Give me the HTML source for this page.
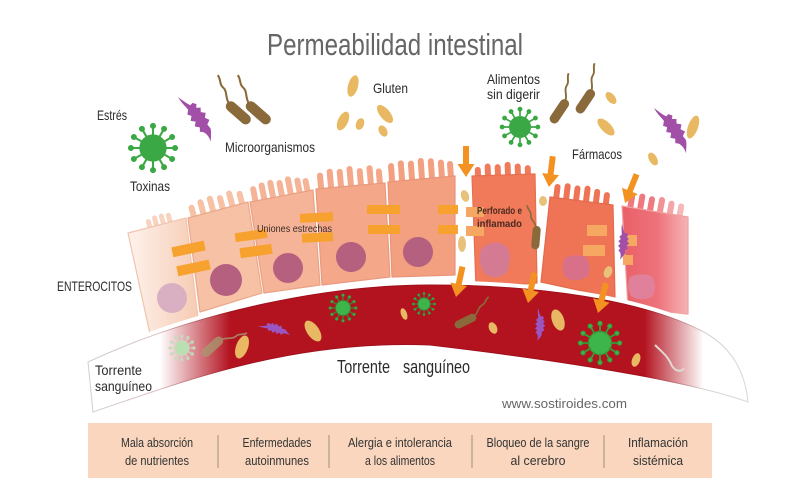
<!DOCTYPE html>
<html><head><meta charset="utf-8"><style>
html,body{margin:0;padding:0;background:#fff;}
svg{display:block;}
text{font-family:"Liberation Sans Narrow","Liberation Sans",sans-serif;}
</style></head><body>
<svg width="800" height="500" viewBox="0 0 800 500" xmlns="http://www.w3.org/2000/svg">
<defs>
<linearGradient id="gb" gradientUnits="userSpaceOnUse" x1="88" y1="0" x2="750" y2="0">
<stop offset="0" stop-color="#fff"/><stop offset="0.109" stop-color="#fff"/><stop offset="0.215" stop-color="#b3121f"/><stop offset="0.84" stop-color="#b3121f"/><stop offset="0.93" stop-color="#fff"/><stop offset="1" stop-color="#fff"/>
</linearGradient>
<linearGradient id="gs" gradientUnits="userSpaceOnUse" x1="88" y1="0" x2="750" y2="0">
<stop offset="0" stop-color="#cfcfcf"/><stop offset="0.109" stop-color="#d8c0c0"/><stop offset="0.215" stop-color="#a0101c"/><stop offset="0.84" stop-color="#a0101c"/><stop offset="0.93" stop-color="#d8d0d0"/><stop offset="1" stop-color="#d8d8d8"/>
</linearGradient>
<linearGradient id="g1" gradientUnits="userSpaceOnUse" x1="125" y1="0" x2="195" y2="0">
<stop offset="0" stop-color="#fdf4ef"/><stop offset="1" stop-color="#f7cdb6"/>
</linearGradient>
<linearGradient id="g8" gradientUnits="userSpaceOnUse" x1="622" y1="0" x2="692" y2="0">
<stop offset="0" stop-color="#ea6068"/><stop offset="0.5" stop-color="#ed727a"/><stop offset="1" stop-color="#f7bcbc"/>
</linearGradient>
<g id="vir">
<circle r="10"/>
<path d="M9 0L16 0M7.8 4.5L13.9 8M4.5 7.8L8 13.9M0 9L0 16M-4.5 7.8L-8 13.9M-7.8 4.5L-13.9 8M-9 0L-16 0M-7.8 -4.5L-13.9 -8M-4.5 -7.8L-8 -13.9M0 -9L0 -16M4.5 -7.8L8 -13.9M7.8 -4.5L13.9 -8" fill="none" stroke-width="1.6"/>
<circle cx="17" cy="0" r="1.8"/><circle cx="14.7" cy="8.5" r="1.8"/><circle cx="8.5" cy="14.7" r="1.8"/><circle cx="0" cy="17" r="1.8"/><circle cx="-8.5" cy="14.7" r="1.8"/><circle cx="-14.7" cy="8.5" r="1.8"/><circle cx="-17" cy="0" r="1.8"/><circle cx="-14.7" cy="-8.5" r="1.8"/><circle cx="-8.5" cy="-14.7" r="1.8"/><circle cx="0" cy="-17" r="1.8"/><circle cx="8.5" cy="-14.7" r="1.8"/><circle cx="14.7" cy="-8.5" r="1.8"/>
</g>
<g id="bac">
<rect x="0" y="-4.5" width="26" height="9" rx="4.5" stroke="none"/>
<path d="M1 -1C-5 -3 -6 -8 -12 -8C-16 -8 -17 -12 -22 -13" fill="none" stroke-width="1.8"/>
</g>
<path id="sq" d="M0 0C2 4 4 9 7 13L10 12L13 15L11 18L15 20L13 24L17 27L14 31L17 35L13 38L14 43C13 47 10 51 8 55C9 50 8 46 6 43L3 41L5 37L1 34L4 30L0 27L3 23L0 20L3 16C2 11 0 6 0 0Z"/>
<path id="arr" d="M-3 -31L3 -31L3 -13L8.5 -13L0 0L-8.5 -13L-3 -13Z"/>
</defs>

<!-- Title -->
<text x="267" y="55" font-size="31" fill="#666" textLength="256" lengthAdjust="spacingAndGlyphs">Permeabilidad intestinal</text>

<!-- Top labels -->
<g fill="#2b2b2b" font-size="14">
<text x="97" y="120" textLength="30" lengthAdjust="spacingAndGlyphs">Estrés</text>
<text x="130" y="191" textLength="40" lengthAdjust="spacingAndGlyphs">Toxinas</text>
<text x="225" y="152" textLength="90" lengthAdjust="spacingAndGlyphs">Microorganismos</text>
<text x="373" y="93" textLength="35" lengthAdjust="spacingAndGlyphs">Gluten</text>
<text x="487" y="84" textLength="53" lengthAdjust="spacingAndGlyphs">Alimentos</text>
<text x="487" y="99" textLength="53" lengthAdjust="spacingAndGlyphs">sin digerir</text>
<text x="572" y="159" textLength="50" lengthAdjust="spacingAndGlyphs">Fármacos</text>
<text x="57" y="291" textLength="75" lengthAdjust="spacingAndGlyphs">ENTEROCITOS</text>
</g>

<!-- Top microbes -->
<use href="#vir" transform="translate(153,148) scale(1.3)" fill="#3aa845" stroke="#3aa845"/>
<use href="#vir" transform="translate(520,127) scale(1.05)" fill="#3aa845" stroke="#3aa845"/>
<use href="#sq" transform="translate(178,97) rotate(-28)" fill="#a24fa8"/>
<use href="#sq" transform="translate(654,108) rotate(-27)" fill="#a24fa8"/>
<use href="#bac" transform="translate(227,103) rotate(41) scale(1.15)" fill="#8a6a3a" stroke="#8a6a3a"/>
<use href="#bac" transform="translate(247,103) rotate(41) scale(1.15)" fill="#8a6a3a" stroke="#8a6a3a"/>
<use href="#bac" transform="translate(567,100) rotate(124) scale(1.05,-1.05)" fill="#8a6a3a" stroke="#8a6a3a"/>
<use href="#bac" transform="translate(593,90) rotate(124) scale(1.05,-1.05)" fill="#8a6a3a" stroke="#8a6a3a"/>
<g fill="#e8b862">
<ellipse cx="353" cy="86" rx="5" ry="11" transform="rotate(15 353 86)"/>
<ellipse cx="343" cy="121" rx="5" ry="10" transform="rotate(25 343 121)"/>
<ellipse cx="360" cy="124" rx="4" ry="6" transform="rotate(20 360 124)"/>
<ellipse cx="385" cy="114" rx="5" ry="11" transform="rotate(-40 385 114)"/>
<ellipse cx="383" cy="131" rx="4" ry="6" transform="rotate(-30 383 131)"/>
<ellipse cx="611" cy="98" rx="4" ry="7" transform="rotate(-40 611 98)"/>
<ellipse cx="606" cy="127" rx="5" ry="11" transform="rotate(-45 606 127)"/>
<ellipse cx="693" cy="127" rx="5" ry="12" transform="rotate(20 693 127)"/>
<ellipse cx="653" cy="159" rx="4" ry="7" transform="rotate(-30 653 159)"/>
</g>

<!-- Villi -->
<g transform="translate(157,225) rotate(-15)" fill="#f8d3bf">
<rect x="-10" y="-8" width="5" height="12" rx="2.5"/><rect x="-3" y="-10" width="5" height="14" rx="2.5"/><rect x="4" y="-10" width="5" height="14" rx="2.5"/><rect x="11" y="-9" width="5" height="13" rx="2.5"/>
</g>
<g transform="translate(218,210) rotate(-15)" fill="#f6c1a5">
<rect x="-28" y="-12" width="6" height="18" rx="3"/><rect x="-18" y="-15" width="6" height="21" rx="3"/><rect x="-8" y="-16" width="6" height="22" rx="3"/><rect x="2" y="-14" width="6" height="20" rx="3"/><rect x="12" y="-16" width="6" height="22" rx="3"/><rect x="22" y="-13" width="6" height="19" rx="3"/>
</g>
<g transform="translate(281,196) rotate(-11)" fill="#f5b497">
<rect x="-29" y="-15" width="6" height="21" rx="3"/><rect x="-20" y="-17" width="6" height="23" rx="3"/><rect x="-11" y="-18" width="6" height="24" rx="3"/><rect x="-2" y="-16" width="6" height="22" rx="3"/><rect x="7" y="-18" width="6" height="24" rx="3"/><rect x="16" y="-15" width="6" height="21" rx="3"/><rect x="24" y="-13" width="6" height="19" rx="3"/>
</g>
<g transform="translate(350,186) rotate(-5)" fill="#f4a789">
<rect x="-32" y="-16" width="6" height="22" rx="3"/><rect x="-22" y="-19" width="6" height="25" rx="3"/><rect x="-12" y="-18" width="6" height="24" rx="3"/><rect x="-2" y="-20" width="6" height="26" rx="3"/><rect x="8" y="-17" width="6" height="23" rx="3"/><rect x="18" y="-19" width="6" height="25" rx="3"/><rect x="27" y="-15" width="6" height="21" rx="3"/>
</g>
<g transform="translate(421,179) rotate(-4)" fill="#f3a080">
<rect x="-32" y="-18" width="6" height="24" rx="3"/><rect x="-22" y="-20" width="6" height="26" rx="3"/><rect x="-12" y="-19" width="6" height="25" rx="3"/><rect x="-2" y="-21" width="6" height="27" rx="3"/><rect x="8" y="-20" width="6" height="26" rx="3"/><rect x="18" y="-18" width="6" height="24" rx="3"/><rect x="27" y="-16" width="6" height="22" rx="3"/>
</g>
<g transform="translate(503,176) rotate(-2)" fill="#f07a5a">
<rect x="-28" y="-10" width="6" height="16" rx="3"/><rect x="-18" y="-13" width="6" height="19" rx="3"/><rect x="-8" y="-12" width="6" height="18" rx="3"/><rect x="2" y="-14" width="6" height="20" rx="3"/><rect x="12" y="-12" width="6" height="18" rx="3"/><rect x="22" y="-10" width="6" height="16" rx="3"/>
</g>
<g transform="translate(581,201) rotate(7)" fill="#ef7455">
<rect x="-28" y="-14" width="6" height="20" rx="3"/><rect x="-18" y="-16" width="6" height="22" rx="3"/><rect x="-8" y="-15" width="6" height="21" rx="3"/><rect x="2" y="-16" width="6" height="22" rx="3"/><rect x="12" y="-14" width="6" height="20" rx="3"/><rect x="22" y="-12" width="6" height="18" rx="3"/>
</g>
<g transform="translate(655,211) rotate(10)" fill="#ee7a80">
<rect x="-28" y="-13" width="6" height="19" rx="3"/><rect x="-18" y="-15" width="6" height="21" rx="3"/><rect x="-8" y="-14" width="6" height="20" rx="3"/><rect x="2" y="-15" width="6" height="21" rx="3" fill="#f29196"/><rect x="12" y="-13" width="6" height="19" rx="3" fill="#f4a5a8"/><rect x="22" y="-12" width="6" height="18" rx="3" fill="#f7b8b8"/>
</g>

<!-- Cells -->
<g stroke-linejoin="round" stroke-width="1.2">
<polygon points="128,233 186,218 198,318 150,334" fill="url(#g1)" stroke="#f1c4ad"/>
<polygon points="188,218 248,202 262,293 200,312" fill="#f6c1a5" stroke="#eba88a"/>
<polygon points="250,202 313,190 320,285 264,293" fill="#f5b497" stroke="#eba084"/>
<polygon points="316,189 385,183 390,277 322,285" fill="#f4a789" stroke="#e99a7e"/>
<polygon points="388,182 455,176 455,275 392,277" fill="#f3a080" stroke="#e99478"/>
<polygon points="472,176 535,174 537,283 476,288" fill="#f07a5a" stroke="#e66f50"/>
<polygon points="550,197 613,205 615,298 541,282" fill="#ef7455" stroke="#e56a4c"/>
<polygon points="622,206 688,217 688,314 628,308" fill="url(#g8)" stroke="#f0a0a0"/>
</g>

<!-- Nuclei -->
<circle cx="172" cy="298" r="15" fill="#d9b0c2"/>
<g fill="#b4607e">
<circle cx="226" cy="280" r="16"/>
<circle cx="288" cy="268" r="15"/>
<circle cx="351" cy="257" r="15"/>
<circle cx="418" cy="252" r="15"/>
</g>
<path d="M482 248 Q492 240 503 244 Q512 250 509 262 Q510 275 497 277 Q484 278 481 266 Q478 256 482 248Z" fill="#d57a93"/>
<path d="M565 258 Q575 253 586 257 Q592 266 588 276 Q577 283 566 278 Q560 268 565 258Z" fill="#d9708a"/>
<path d="M630 277 Q640 272 652 276 Q658 287 652 297 Q640 302 631 296 Q626 286 630 277Z" fill="#e0809a"/>

<!-- Tight junctions -->
<g fill="#f7a12e">
<rect x="172" y="244" width="33" height="10" transform="rotate(-12 188 249)"/>
<rect x="177" y="263" width="33" height="10" transform="rotate(-12 193 268)"/>
<rect x="235" y="231" width="32" height="9" transform="rotate(-8 251 235)"/>
<rect x="240" y="246" width="32" height="10" transform="rotate(-8 256 251)"/>
<rect x="300" y="213" width="33" height="9" transform="rotate(-3 316 218)"/>
<rect x="302" y="233" width="31" height="9" transform="rotate(-3 317 238)"/>
<rect x="367" y="205" width="33" height="9"/>
<rect x="368" y="225" width="32" height="9"/>
<rect x="438" y="205" width="20" height="9"/>
<rect x="438" y="225" width="20" height="9"/>
</g>
<g fill="#f6a863">
<rect x="466" y="207" width="18" height="10"/>
<rect x="466" y="226" width="18" height="10"/>
<rect x="587" y="225" width="20" height="11"/>
<rect x="583" y="245" width="22" height="11"/>
<rect x="625" y="235" width="12" height="11"/>
<rect x="623" y="255" width="10" height="10"/>
</g>

<!-- Gap contents -->
<g fill="#e8c27a">
<ellipse cx="465" cy="196" rx="4" ry="6" transform="rotate(-20 465 196)"/>
<ellipse cx="462" cy="244" rx="4" ry="8"/>
<ellipse cx="543" cy="201" rx="4" ry="5"/>
<ellipse cx="608" cy="272" rx="4" ry="6" transform="rotate(20 608 272)"/>
</g>
<use href="#bac" transform="translate(537,226) rotate(95) scale(0.9,-0.9)" fill="#8a6a3a" stroke="#8a6a3a"/>
<use href="#sq" transform="translate(622,224) rotate(12) scale(0.65)" fill="#a24fa8"/>

<!-- Cell labels -->
<text x="257" y="232" font-size="10.5" fill="#3a2a2a" textLength="75" lengthAdjust="spacingAndGlyphs">Uniones estrechas</text>
<text x="477" y="214" font-size="10.5" font-weight="bold" fill="#4a2a20" textLength="45" lengthAdjust="spacingAndGlyphs">Perforado e</text>
<text x="477" y="227" font-size="10.5" font-weight="bold" fill="#4a2a20" textLength="45" lengthAdjust="spacingAndGlyphs">inflamado</text>

<!-- White gap above vessel -->
<path d="M88 362 C200 310 330 285 430 285 C540 285 640 300 700 330" fill="none" stroke="#fff" stroke-width="9"/>

<!-- Blood vessel -->
<path d="M88 362 C200 310 330 285 430 285 C540 285 640 300 700 330 C730 345 745 370 748 402 C700 385 600 365 430 345 C300 340 200 375 93 412 Z" fill="url(#gb)" stroke="url(#gs)" stroke-width="1"/>

<!-- Blood contents -->
<use href="#vir" transform="translate(182,348) scale(0.7)" fill="#b8e0b0" stroke="#c8dcc0"/>
<use href="#vir" transform="translate(343,308) scale(0.75)" fill="#3db54a" stroke="#3a8a38"/>
<use href="#vir" transform="translate(424,304) scale(0.62)" fill="#3db54a" stroke="#3a8a38"/>
<use href="#vir" transform="translate(600,343) scale(1.15)" fill="#3db54a" stroke="#3a9a3a"/>
<use href="#bac" transform="translate(222,338) rotate(138)" fill="#a89a70" stroke="#a89a70" opacity="0.75"/>
<use href="#bac" transform="translate(476,316) rotate(154) scale(0.9,-0.9)" fill="#8a6a3a" stroke="#8a6a3a"/>
<use href="#sq" transform="translate(258,326) rotate(-65) scale(0.6)" fill="#9a55c0"/>
<use href="#sq" transform="translate(538,308) rotate(10) scale(0.6)" fill="#9a55c0"/>
<g fill="#e8b862">
<ellipse cx="242" cy="347" rx="6" ry="12" transform="rotate(20 242 347)"/>
<ellipse cx="313" cy="331" rx="6" ry="12" transform="rotate(-35 313 331)"/>
<ellipse cx="404" cy="314" rx="3" ry="6" transform="rotate(-20 404 314)"/>
<ellipse cx="493" cy="328" rx="4" ry="6" transform="rotate(-25 493 328)"/>
<ellipse cx="558" cy="320" rx="6" ry="11" transform="rotate(-20 558 320)"/>
<ellipse cx="636" cy="360" rx="4" ry="7" transform="rotate(20 636 360)"/>
</g>
<path d="M655 345 C662 352 668 356 672 366 C676 372 682 372 684 368" fill="none" stroke="#e0d8d0" stroke-width="2"/>

<!-- Arrows -->
<g fill="#f39220">
<use href="#arr" transform="translate(466,177)"/>
<use href="#arr" transform="translate(549,187) rotate(7)"/>
<use href="#arr" transform="translate(625,203) rotate(22)"/>
<use href="#arr" transform="translate(456,297) rotate(12)"/>
<use href="#arr" transform="translate(528,303) rotate(12)"/>
<use href="#arr" transform="translate(598,313) rotate(15)"/>
</g>

<!-- Vessel labels -->
<text x="95" y="375" font-size="14" fill="#2b2b2b" textLength="47" lengthAdjust="spacingAndGlyphs">Torrente</text>
<text x="95" y="391" font-size="14" fill="#2b2b2b" textLength="57" lengthAdjust="spacingAndGlyphs">sanguíneo</text>
<text x="337" y="373" font-size="18" fill="#2b2b2b" textLength="53" lengthAdjust="spacingAndGlyphs">Torrente</text>
<text x="403" y="373" font-size="18" fill="#2b2b2b" textLength="67" lengthAdjust="spacingAndGlyphs">sanguíneo</text>
<text x="502" y="408" font-size="12.5" fill="#666" style="font-family:'Liberation Sans',sans-serif" textLength="125" lengthAdjust="spacingAndGlyphs">www.sostiroides.com</text>

<!-- Bottom box -->
<rect x="88" y="423" width="624" height="55" fill="#f9d6bd"/>
<g stroke="#a09080" stroke-width="1">
<line x1="218" y1="435" x2="218" y2="468"/>
<line x1="329" y1="435" x2="329" y2="468"/>
<line x1="472" y1="435" x2="472" y2="468"/>
<line x1="604" y1="435" x2="604" y2="468"/>
</g>
<g fill="#333" font-size="13" text-anchor="middle">
<text x="157" y="447" textLength="72" lengthAdjust="spacingAndGlyphs">Mala absorción</text>
<text x="157" y="465" textLength="64" lengthAdjust="spacingAndGlyphs">de nutrientes</text>
<text x="277" y="447" textLength="69" lengthAdjust="spacingAndGlyphs">Enfermedades</text>
<text x="277" y="465" textLength="64" lengthAdjust="spacingAndGlyphs">autoinmunes</text>
<text x="400" y="447" textLength="104" lengthAdjust="spacingAndGlyphs">Alergia e intolerancia</text>
<text x="400" y="465" textLength="70" lengthAdjust="spacingAndGlyphs">a los alimentos</text>
<text x="538" y="447" textLength="103" lengthAdjust="spacingAndGlyphs">Bloqueo de la sangre</text>
<text x="538" y="465" textLength="55" lengthAdjust="spacingAndGlyphs">al cerebro</text>
<text x="658" y="447" textLength="60" lengthAdjust="spacingAndGlyphs">Inflamación</text>
<text x="658" y="465" textLength="50" lengthAdjust="spacingAndGlyphs">sistémica</text>
</g>
</svg>
</body></html>
